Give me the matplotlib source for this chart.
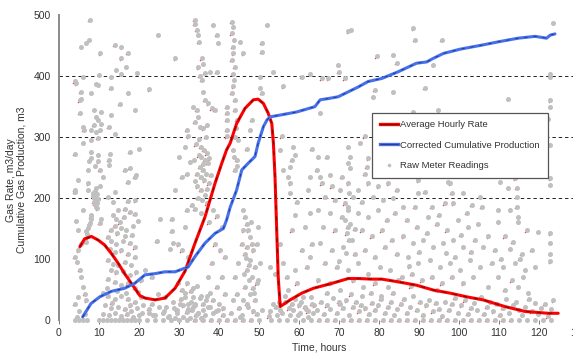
import matplotlib
matplotlib.use("Agg")
import matplotlib.pyplot as plt
import matplotlib.transforms as mtransforms
from matplotlib.legend_handler import HandlerTuple
from matplotlib.lines import Line2D

plt.rcParams['font.family'] = ['Liberation Sans', 'DejaVu Sans']

# Average hourly rate (m3/day) vs time (hours)
rate_t = [5.2, 6.4, 8.1, 9.8, 11.4, 13.1, 14.8, 16.4, 18.1, 20.2, 21.5, 24.0,
          26.5, 29.0, 31.5, 34.0, 36.5, 39.0, 40.7, 41.9, 42.8, 44.4, 46.5,
          48.6, 49.8, 51.1, 52.3, 53.2, 53.6, 54.0, 54.4, 54.8, 55.3, 57.8,
          60.7, 63.6, 68.2, 72.3, 74.8, 78.2, 80.7, 84.4, 89.4, 93.6, 97.8,
          101.9, 106.0, 111.5, 116.5, 122.3, 124.8]
rate_q = [120, 133, 137, 131, 123, 109, 93, 76, 60, 40, 36, 33,
          36, 52, 80, 126, 169, 224, 257, 279, 290, 322, 347,
          361, 362, 355, 339, 322, 290, 235, 153, 71, 22, 33,
          44, 52, 60, 68, 68, 67, 67, 63, 57, 49, 44,
          38, 33, 22, 14, 11, 11]

# Corrected cumulative production (m3) vs time (hours)
cum_t = [5.9, 8.0, 10.2, 13.1, 16.4, 18.9, 21.5, 24.0, 26.5, 29.0, 32.3, 34.0,
         36.5, 39.0, 41.1, 41.9, 42.8, 44.4, 45.7, 47.3, 49.0, 49.8, 51.1,
         52.0, 52.8, 55.3, 59.4, 63.6, 64.0, 65.3, 67.3, 69.8, 72.3, 74.8,
         77.3, 80.7, 84.8, 89.4, 91.9, 93.6, 96.1, 100.3, 106.0, 109.8,
         114.8, 119.0, 121.9, 122.8, 124.0]
cum_q = [5, 27, 38, 47, 52, 60, 74, 76, 79, 79, 87, 104,
         126, 142, 150, 164, 185, 213, 246, 257, 268, 290, 317,
         328, 333, 336, 341, 349, 350, 361, 363, 366, 374, 382,
         391, 396, 407, 421, 423, 429, 437, 444, 451, 456,
         462, 465, 462, 467, 469]

# Raw meter readings, split by time window: (time h, rate m3/day)
readings_0_21 = [
    (7.7, 492), (7.4, 459), (6.8, 454), (5.6, 448), (13.9, 451), (15.6, 448),
    (10.3, 437), (17.2, 438), (15.6, 429), (16.8, 415), (14.3, 410), (15.6, 404),
    (19.6, 405), (6.0, 399), (10.0, 402), (13.1, 399), (3.9, 391), (4.3, 388),
    (9.3, 387), (9.8, 385), (12.9, 381), (5.4, 374), (8.1, 372), (17.3, 372),
    (5.6, 363), (5.2, 360), (15.2, 354), (8.8, 344), (10.6, 341), (13.1, 336),
    (19.1, 345), (5.2, 340), (9.3, 333), (9.8, 328), (10.6, 322), (8.7, 320),
    (6.0, 317), (6.2, 311), (12.4, 317), (8.1, 311), (9.3, 308), (10.3, 311),
    (14.1, 305), (9.7, 298), (8.1, 295), (6.0, 290), (3.9, 272), (20.0, 281),
    (17.7, 276), (8.0, 276), (9.8, 271), (7.9, 265), (7.6, 261), (12.8, 272),
    (12.4, 262), (12.6, 254), (9.8, 260), (9.0, 252), (10.2, 246), (7.3, 246),
    (16.4, 246), (17.7, 249), (19.3, 238), (18.9, 235), (11.0, 235), (4.8, 230),
    (3.9, 213), (3.9, 210), (7.3, 224), (7.3, 213), (17.2, 227), (10.2, 220),
    (9.3, 217), (8.5, 208), (9.0, 203), (9.2, 197), (9.6, 192), (9.3, 186),
    (8.8, 200), (9.4, 206), (8.7, 194), (9.8, 199), (14.0, 210), (12.2, 202),
    (13.5, 194), (17.2, 195), (19.1, 196), (6.0, 180), (8.1, 172), (14.8, 180),
    (16.4, 182), (17.7, 177), (18.9, 174), (16.2, 169), (8.1, 165), (7.7, 159),
    (7.3, 151), (6.8, 146), (6.4, 133), (4.3, 163), (4.8, 148), (10.6, 166),
    (10.2, 159), (13.5, 172), (14.3, 166), (15.2, 160), (13.9, 154), (15.6, 151),
    (16.8, 148), (18.5, 154), (19.8, 163), (12.2, 136), (13.1, 130), (14.3, 125),
    (16.0, 130), (17.7, 127), (18.9, 119), (12.7, 116), (13.9, 111), (15.6, 114),
    (17.2, 109), (18.9, 103), (3.9, 103), (4.6, 95), (5.2, 82), (5.6, 71),
    (4.8, 114), (5.6, 125), (12.2, 98), (13.5, 92), (14.8, 90), (16.4, 95),
    (18.0, 90), (13.0, 82), (14.3, 78), (16.0, 80), (17.7, 74), (19.3, 78),
    (12.2, 68), (13.9, 62), (15.6, 57), (17.2, 60), (18.9, 52), (20.5, 65),
    (11.0, 45), (12.2, 40), (13.9, 35), (15.6, 40), (17.2, 35), (18.9, 30),
    (20.5, 38), (11.5, 25), (13.0, 20), (14.8, 22), (16.4, 18), (18.0, 15),
    (19.5, 20), (21.0, 25), (6.0, 54), (6.4, 43), (6.8, 32), (4.8, 38),
    (3.9, 27), (5.0, 15), (6.5, 10), (4.5, 5), (11.0, 10), (12.5, 8),
    (14.0, 12), (15.5, 6), (17.0, 10), (18.5, 5), (20.0, 8), (12.0, 52),
    (14.5, 48), (16.8, 45), (19.8, 46), (13.2, 28), (17.8, 24), (20.8, 12),
    (9.1, 212), (8.9, 190), (9.5, 183), (8.6, 204), (7.9, 170), (7.5, 155),
    (7.1, 141), (6.7, 128), (14.6, 142), (16.6, 138), (18.2, 140), (12.9, 148),
]

readings_21_42 = [
    (34.0, 492), (34.0, 486), (34.4, 475), (34.8, 467), (35.0, 456), (38.6, 484),
    (39.4, 467), (39.8, 454), (24.8, 467), (29.0, 429), (35.7, 429), (36.1, 420),
    (34.8, 414), (35.2, 400), (35.7, 394), (36.5, 405), (37.8, 407), (39.4, 407),
    (22.5, 378), (36.1, 374), (36.5, 361), (37.3, 355), (38.2, 347), (33.6, 350),
    (34.4, 344), (34.8, 333), (34.0, 325), (35.3, 317), (36.1, 314), (36.9, 319),
    (31.9, 312), (32.3, 301), (39.0, 344), (35.4, 284), (36.2, 279), (37.0, 273),
    (35.6, 268), (36.4, 262), (37.2, 257), (35.2, 251), (36.0, 246), (36.8, 240),
    (35.5, 235), (36.3, 229), (37.5, 224), (34.6, 219), (35.4, 213), (36.6, 205),
    (35.8, 197), (37.0, 191), (34.2, 288), (33.8, 262), (34.4, 240), (31.9, 240),
    (30.7, 235), (32.8, 259), (31.5, 284), (30.1, 268), (41.9, 350), (41.9, 339),
    (41.9, 328), (41.9, 312), (41.9, 301), (29.0, 213), (25.3, 166), (24.4, 130),
    (28.2, 146), (28.6, 127), (27.8, 116), (30.7, 114), (32.3, 103), (31.9, 181),
    (33.2, 189), (28.2, 166), (31.5, 152), (29.8, 124), (38.6, 181), (39.4, 170),
    (40.7, 152), (39.0, 124), (40.3, 114), (41.5, 103), (40.7, 71), (39.4, 54),
    (41.5, 43), (38.2, 93), (37.3, 71), (23.2, 71), (21.5, 82), (24.8, 43),
    (26.5, 38), (23.2, 27), (29.8, 60), (30.7, 49), (31.5, 38), (32.3, 27),
    (29.4, 16), (30.3, 27), (31.9, 13), (33.2, 16), (34.0, 27), (33.6, 38),
    (34.8, 11), (36.1, 16), (37.3, 22), (38.6, 11), (39.8, 16), (41.1, 19),
    (31.1, 5), (32.8, 3), (29.0, 3), (27.3, 5), (26.1, 11), (33.0, 48),
    (34.5, 55), (35.5, 40), (36.8, 33), (34.2, 8), (35.6, 4), (33.4, 22),
    (32.0, 60), (22.5, 12), (24.0, 8), (37.8, 45), (26.8, 22), (28.5, 30),
    (35.1, 296), (36.7, 300), (34.9, 270), (37.6, 265), (35.9, 255), (37.9, 238),
    (34.1, 228), (36.9, 215), (34.7, 200), (33.9, 182), (35.6, 176), (37.4, 160),
]

readings_42_64 = [
    (43.2, 489), (43.6, 481), (43.2, 470), (43.8, 459), (43.4, 448), (43.6, 437),
    (43.2, 426), (44.0, 415), (43.4, 404), (43.8, 393), (43.6, 383), (43.2, 372),
    (44.0, 361), (52.0, 484), (50.7, 454), (50.7, 440), (50.3, 399), (46.1, 437),
    (45.3, 456), (53.6, 407), (56.0, 383), (60.7, 399), (62.8, 404), (50.3, 380),
    (50.7, 372), (44.0, 344), (44.4, 328), (44.8, 295), (43.6, 279), (44.4, 262),
    (44.0, 246), (47.0, 281), (47.8, 312), (48.2, 328), (58.6, 284), (59.0, 271),
    (58.2, 262), (57.8, 251), (55.7, 301), (55.3, 279), (63.2, 281), (62.8, 235),
    (62.3, 213), (57.8, 224), (57.8, 208), (56.0, 246), (57.3, 235), (46.1, 180),
    (46.5, 169), (46.9, 158), (47.3, 147), (47.8, 136), (48.2, 125), (48.6, 114),
    (46.5, 109), (47.8, 98), (49.0, 87), (46.9, 82), (48.2, 71), (49.4, 60),
    (46.5, 54), (47.8, 43), (49.0, 33), (46.1, 33), (47.3, 22), (48.6, 14),
    (45.3, 5), (44.4, 43), (44.0, 71), (44.8, 93), (43.6, 33), (45.7, 125),
    (46.1, 147), (49.8, 153), (49.4, 125), (50.3, 93), (49.8, 65), (47.0, 120),
    (48.0, 160), (47.5, 90), (48.8, 45), (52.8, 87), (54.0, 76), (56.0, 93),
    (56.9, 71), (59.0, 82), (60.7, 115), (61.9, 87), (62.8, 104), (63.2, 125),
    (61.5, 153), (59.0, 172), (59.4, 194), (58.2, 147), (62.8, 175), (55.3, 125),
    (57.3, 49), (59.4, 60), (61.1, 38), (63.2, 27), (53.6, 27), (55.3, 16),
    (52.8, 14), (58.6, 16), (60.3, 11), (62.3, 5), (56.5, 30), (57.8, 8),
    (60.0, 24), (61.8, 18), (63.5, 12), (54.5, 8), (43.9, 300), (44.2, 315),
    (43.8, 268), (44.6, 252), (46.8, 102), (47.6, 66), (48.4, 52), (46.3, 76),
]

readings_64_85 = [
    (72.3, 473), (73.0, 476), (69.8, 418), (70.0, 407), (79.4, 432), (83.6, 435),
    (84.4, 421), (67.3, 396), (65.7, 396), (71.5, 396), (78.6, 366), (79.0, 377),
    (83.6, 374), (65.3, 340), (76.5, 301), (75.3, 290), (64.8, 268), (66.9, 268),
    (72.3, 284), (72.8, 268), (72.3, 257), (72.8, 249), (77.3, 265), (76.9, 251),
    (76.5, 240), (64.4, 246), (65.3, 235), (67.8, 238), (70.7, 235), (65.7, 224),
    (68.2, 219), (70.3, 213), (72.3, 224), (74.8, 213), (77.3, 224), (79.8, 219),
    (82.3, 224), (84.4, 213), (66.5, 202), (69.0, 197), (71.5, 191), (73.6, 202),
    (75.7, 194), (78.6, 202), (81.1, 197), (83.6, 200), (64.8, 180), (67.8, 175),
    (70.7, 169), (72.3, 180), (72.8, 158), (74.8, 175), (77.3, 169), (79.8, 180),
    (81.9, 164), (84.0, 175), (66.1, 153), (69.0, 147), (71.9, 142), (73.2, 131),
    (75.7, 147), (78.2, 137), (80.7, 147), (83.2, 131), (65.3, 126), (68.2, 115),
    (71.1, 120), (74.0, 109), (76.5, 115), (79.0, 104), (81.5, 120), (84.4, 109),
    (66.5, 93), (69.4, 87), (72.3, 82), (74.8, 93), (77.3, 76), (80.3, 87),
    (82.8, 82), (64.8, 65), (67.8, 60), (70.3, 49), (73.6, 65), (76.1, 54),
    (79.0, 60), (82.3, 54), (84.8, 65), (72.3, 186), (72.2, 153), (72.5, 131),
    (67.0, 45), (70.0, 30), (73.0, 42), (75.5, 25), (78.0, 45), (80.5, 35),
    (83.5, 44), (71.6, 164), (72.6, 208), (71.8, 110), (73.9, 150), (70.1, 96),
]

readings_85_106 = [
    (88.6, 478), (89.0, 459), (95.7, 459), (91.5, 380), (93.6, 418), (88.6, 341),
    (94.8, 344), (89.8, 229), (97.3, 227), (97.8, 224), (91.5, 210), (89.8, 208),
    (98.2, 208), (101.1, 208), (105.3, 202), (86.1, 186), (89.0, 186), (93.2, 186),
    (96.5, 191), (98.6, 191), (103.2, 189), (105.7, 186), (86.9, 164), (89.4, 153),
    (92.3, 169), (94.4, 158), (96.9, 147), (99.8, 164), (102.3, 153), (104.8, 158),
    (86.1, 137), (88.6, 126), (91.1, 131), (93.6, 120), (96.1, 126), (98.6, 131),
    (101.1, 120), (104.0, 131), (106.1, 120), (87.3, 104), (89.8, 93), (92.8, 98),
    (95.3, 87), (97.8, 93), (100.3, 82), (102.8, 98), (105.3, 87), (85.7, 71),
    (88.2, 76), (90.7, 65), (93.2, 71), (95.7, 60), (98.2, 71), (101.1, 60),
    (103.6, 71), (100.5, 140), (102.0, 175), (88.0, 55), (94.5, 50), (90.0, 112),
    (92.0, 143), (95.0, 172), (99.0, 104), (103.0, 112), (87.6, 88), (96.8, 110),
]

readings_106_125 = [
    (123.6, 487), (122.8, 404), (122.8, 399), (112.3, 363), (122.8, 360), (122.8, 349),
    (122.3, 330), (122.8, 287), (122.8, 232), (122.8, 221), (110.3, 227), (112.3, 216),
    (114.4, 216), (114.0, 232), (114.4, 202), (114.4, 186), (112.8, 180), (109.8, 180),
    (114.8, 169), (114.8, 161), (109.8, 161), (116.9, 147), (119.8, 145), (107.3, 137),
    (111.5, 137), (122.8, 142), (122.8, 126), (122.8, 109), (122.8, 96), (109.0, 115),
    (112.8, 117), (115.7, 109), (118.2, 115), (108.2, 93), (111.1, 87), (114.0, 93),
    (116.5, 82), (119.0, 87), (109.8, 71), (113.2, 65), (116.1, 71), (107.3, 54),
    (111.5, 49), (114.8, 54), (117.3, 44), (113.5, 128), (115.2, 100), (110.5, 100),
]

# Low readings that pile up just above zero
low_t = [22.4, 23.6, 25.0, 26.2, 27.6, 28.8, 29.6, 30.4, 31.0, 31.6, 32.2, 32.9,
         33.5, 34.1, 34.7, 35.3, 35.9, 36.5, 37.1, 37.7, 38.4, 39.2, 40.1, 41.0,
         43.0, 44.9, 45.8, 47.0, 49.5, 50.8, 52.4, 54.2, 55.0, 55.8, 56.6, 57.4,
         58.2, 59.0, 59.8, 60.6, 61.4, 62.2, 63.0, 63.8, 64.6, 65.4, 66.2, 67.0,
         67.8, 68.6, 69.4, 70.2, 71.0, 71.8, 72.6, 73.4, 74.2, 75.0, 75.8, 76.6,
         77.4, 78.2, 79.0, 79.8, 80.6, 81.4, 82.2, 83.0, 83.8, 84.6, 85.4, 86.2,
         87.0, 87.8, 88.6, 89.4, 90.2, 91.0, 91.8, 92.6, 93.4, 94.2, 95.0, 95.8,
         96.6, 97.4, 98.2, 99.0, 99.8, 100.6, 101.4, 102.2, 103.0, 103.8, 104.6,
         105.4, 106.2, 107.0, 107.8, 108.6, 109.4, 110.2, 111.0, 111.8, 112.6,
         113.4, 114.2, 115.0, 115.8, 116.6, 117.4, 118.2, 119.0, 119.8, 120.6,
         121.4, 122.2, 123.0, 123.6]
low_q = [18, 9, 22, 14, 6, 20, 12, 34, 24, 45, 18, 30,
         52, 24, 12, 36, 27, 9, 40, 21, 33, 14, 26, 8,
         12, 20, 8, 26, 10, 17, 6, 22, 30, 12, 40, 19,
         27, 34, 9, 30, 21, 14, 38, 24, 16, 30, 10, 24,
         18, 36, 12, 27, 20, 32, 8, 22, 30, 14, 40, 19,
         10, 28, 16, 24, 40, 12, 22, 30, 8, 18, 26, 34,
         12, 22, 40, 16, 30, 9, 24, 33, 14, 28, 18, 6,
         30, 16, 26, 36, 12, 24, 32, 10, 20, 28, 16,
         38, 10, 22, 30, 14, 26, 8, 20, 34, 12,
         24, 30, 16, 8, 22, 34, 14, 28, 10, 20,
         26, 6, 18, 32]

# Times where the meter read zero
zero_t = [4.0, 5.0, 6.0, 7.0, 10.0, 11.0, 12.0, 13.0, 14.0, 15.0, 16.0, 17.0,
          18.0, 19.0, 20.0, 22.0, 24.0, 26.0, 28.0, 30.0, 32.0, 34.0, 36.0,
          38.0, 40.0, 42.0, 44.0, 46.0, 48.0, 50.0, 53.0, 55.0, 57.0, 59.0,
          61.0, 63.0, 65.0, 67.0, 69.0, 71.0, 73.0, 75.0, 77.0, 79.0, 81.0,
          83.0, 85.0, 87.0, 89.0, 91.0, 93.0, 95.0, 97.0, 99.0, 101.0, 103.0,
          105.0, 107.0, 109.0, 111.0, 113.0, 115.0, 117.0, 119.0, 121.0, 123.0]

x_ticks = [0, 10, 20, 30, 40, 50, 60, 70, 80, 90, 100, 110, 120, 130]
y_ticks = [0, 100, 200, 300, 400, 500]
grid_levels = [200, 300, 400]

fig = plt.figure(figsize=(5.73, 3.55), dpi=100)
ax = fig.add_axes([59 / 573, 35 / 355, 520 / 573, 305 / 355])
ax.set_xlim(0, 130)
ax.set_ylim(0, 500)

raw = (readings_0_21 + readings_21_42 + readings_42_64 + readings_64_85
       + readings_85_106 + readings_106_125)
raw_t = [p[0] for p in raw] + low_t + zero_t
raw_q = [p[1] for p in raw] + low_q + [0] * len(zero_t)

# grid lines
for g in grid_levels:
    ax.axhline(g, color='#222222', lw=0.7, ls=(0, (3.5, 3)), zorder=1,
               clip_on=False)

# small red specks beside each reading
speck_tr = ax.transData + mtransforms.ScaledTranslation(-1.5 / 100, -1.2 / 100,
                                                         fig.dpi_scale_trans)
ax.scatter(raw_t, raw_q, s=1.2, color='#ff3030', linewidths=0, zorder=2,
           transform=speck_tr, clip_on=False)
ax.scatter(raw_t, raw_q, s=13, color='#c0c0c0', linewidths=0, zorder=3,
           clip_on=False)

ax.plot(rate_t, rate_q, color='#ff0000', lw=2.2, zorder=5,
        solid_joinstyle='round', solid_capstyle='round')
ax.plot(rate_t, rate_q, color='#111111', lw=0.6, ls=(0, (5, 8)), zorder=6,
        alpha=0.8)
ax.plot(cum_t, cum_q, color='#4470f0', lw=2.2, zorder=5,
        solid_joinstyle='round', solid_capstyle='round')
ax.plot(cum_t, cum_q, color='#222244', lw=0.6, ls=(0, (4, 7)), zorder=6,
        alpha=0.8)

for s in ['top', 'right', 'bottom']:
    ax.spines[s].set_visible(False)
ax.spines['left'].set_color('#8a8a8a')
ax.spines['left'].set_linewidth(1.4)

ax.set_xticks(x_ticks)
ax.set_yticks(y_ticks)
ax.tick_params(axis='x', length=3, width=0.7, color='#777777', pad=3,
               labelsize=7.5, labelcolor='#333333')
ax.tick_params(axis='y', length=0, pad=6, labelsize=7.5, labelcolor='#333333')

ax.set_xlabel('Time, hours', fontsize=7.5, color='#333333', labelpad=3)
ax.set_ylabel('Gas Rate, m3/day\nCumulative Gas Production, m3', fontsize=7.5,
              color='#333333', linespacing=1.1)
ax.yaxis.set_label_coords(-0.062, 0.46)

h_rate = (Line2D([], [], color='#ff0000', lw=2.4),
          Line2D([], [], color='#111111', lw=0.45))
h_cum = (Line2D([], [], color='#4470f0', lw=2.4),
         Line2D([], [], color='#222244', lw=0.45))
h_raw = Line2D([], [], ls='none', marker='o', markersize=2.6,
               markerfacecolor='#c0c0c0', markeredgewidth=0)
leg = ax.legend([h_rate, h_cum, h_raw],
                ['Average Hourly Rate', 'Corrected Cumulative Production',
                 'Raw Meter Readings'],
                handler_map={tuple: HandlerTuple(ndivide=1)},
                loc='upper left', bbox_to_anchor=(0.602, 0.679),
                fontsize=6.8, frameon=True, fancybox=False, framealpha=1,
                edgecolor='#555555', borderpad=0.8, labelspacing=1.2,
                handlelength=1.9, handletextpad=0.3, borderaxespad=0)
leg.get_frame().set_linewidth(0.9)
for t in leg.get_texts():
    t.set_color('#333333')
leg.set_zorder(10)

fig.savefig('out.png', dpi=100)
